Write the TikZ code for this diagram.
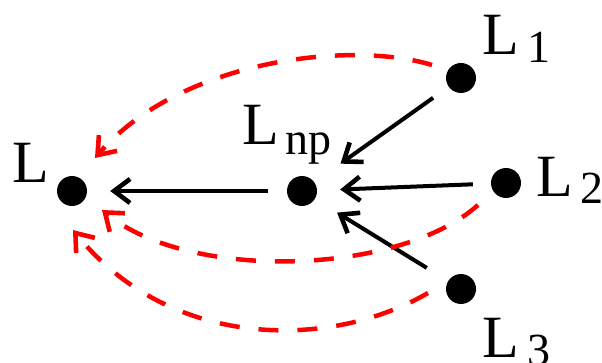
\documentclass[tikz,border=0pt]{standalone}
\usepackage{fontspec}
\setmainfont{Liberation Serif}
\usetikzlibrary{arrows.meta,calc}
\newcommand\mysub[3]{L\hspace{#1}\raisebox{-#2}{\fontsize{46pt}{46pt}\selectfont #3}}
\begin{document}
\begin{tikzpicture}[x=1pt,y=-1pt,
 dot/.style={circle,fill=black,inner sep=0pt,minimum size=30pt},
 lab/.style={anchor=base west,inner sep=0pt,font=\fontsize{60pt}{60pt}\selectfont},
 tip/.style={-{Straight Barb[length=16pt,width=24pt,line width=4.6pt]}},
 blk/.style={line width=4pt,tip},
 reddash/.style={line width=4.5pt,red,dash pattern=on 20pt off 19pt,tip}]
\useasboundingbox (0,0) rectangle (602,363);
\node[dot] (L) at (72,191) {};
\node[dot] (Lnp) at (302,191) {};
\node[dot] (L1) at (461,78) {};
\node[dot] (L2) at (506,183) {};
\node[dot] (L3) at (461,289) {};
\draw[blk,shorten <=19pt,shorten >=23pt] (Lnp) -- (L);
\draw[blk,shorten <=18pt,shorten >=23pt] (L2) -- (Lnp);
\draw[blk,shorten <=19pt,shorten >=32pt] (L1) -- (Lnp);
\draw[blk,shorten <=25pt,shorten >=26pt] (L3) -- (Lnp);
\draw[reddash] ($(L1)+(-29,-13)$) .. controls (350,40) and (180,60) .. ($(L)+(23,-33)$);
\draw[reddash] ($(L2)+(-28,22)$) .. controls (400,275) and (190,282) .. ($(L)+(30,19)$);
\draw[reddash] ($(L3)+(-33,4)$) .. controls (330,350) and (170,350) .. ($(L)+(1,39)$);
\node[lab] (tL) at (12,183) {L};
\node[lab] (tLnp) at (242,145) {\mysub{7pt}{10pt}{np}};
\node[lab] (tL1) at (482,55) {\mysub{9pt}{8pt}{1}};
\node[lab] (tL2) at (536,197) {\mysub{8pt}{7pt}{2}};
\node[lab] (tL3) at (482,357) {\mysub{9pt}{8pt}{3}};
\end{tikzpicture}
\end{document}
